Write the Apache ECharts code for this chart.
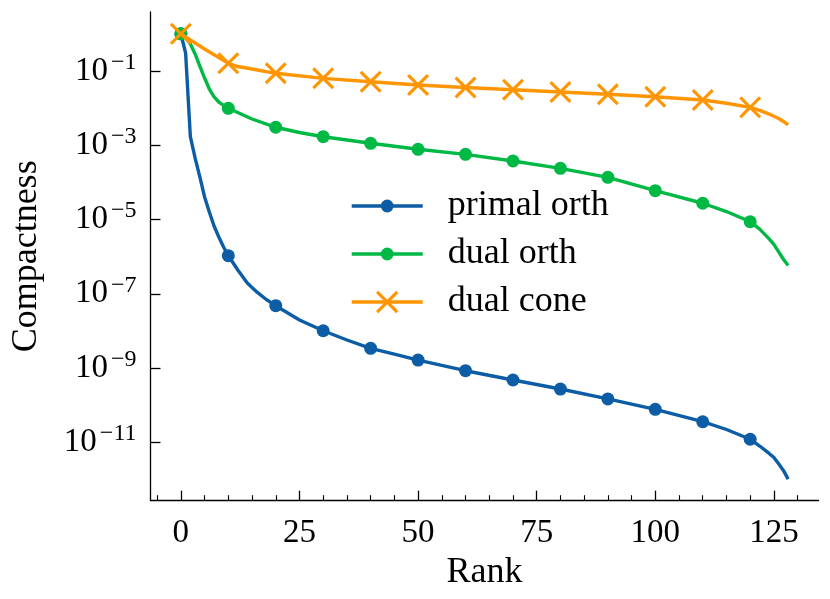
<!DOCTYPE html>
<html>
<head>
<meta charset="utf-8">
<script src="https://cdn.jsdelivr.net/npm/echarts@6/dist/echarts.min.js"></script>
<style>html,body{margin:0;padding:0;background:#fff}#c{width:830px;height:599px}</style>
</head>
<body>
<div id="c"></div>
<script>
// ---- data ----
const seriesNames = ['primal orth', 'dual orth', 'dual cone'];
const seriesColors = ['#0C5DA5', '#00B945', '#FF9500'];

const primalX = [0,1,2,3,4,5,6,7,8,9,10,12,14,16,18,20,25,30,35,40,45,50,60,70,80,90,100,110,115,120,122,124,125,126,127,128];
const primalY = [1,0.305,1.70e-3,4.54e-4,1.40e-4,4.05e-5,1.60e-5,6.68e-6,3.38e-6,1.82e-6,1.06e-6,4.37e-7,1.95e-7,1.12e-7,7.0e-8,4.78e-8,1.97e-8,1.01e-8,5.69e-9,3.40e-9,2.36e-9,1.64e-9,8.47e-10,4.76e-10,2.72e-10,1.47e-10,7.73e-11,3.58e-11,2.21e-11,1.21e-11,7.94e-12,5.01e-12,3.89e-12,2.63e-12,1.75e-12,1.02e-12];

const dualOrthX = [0,1,2,3,4,5,6,7,8,9,10,15,20,25,30,40,50,60,70,80,90,100,110,115,120,122,124,125,126,127,128];
const dualOrthY = [1,0.798,0.533,0.287,0.136,0.0647,0.0327,0.0200,0.0146,0.0118,0.00989,5.09e-3,3.05e-3,2.21e-3,1.70e-3,1.13e-3,7.78e-4,5.70e-4,3.77e-4,2.39e-4,1.37e-4,5.97e-5,2.74e-5,1.64e-5,8.73e-6,5.50e-6,3.02e-6,2.14e-6,1.35e-6,8.51e-7,5.75e-7];

const coneX = [0,5,10,12,15,20,30,40,50,60,70,80,90,100,110,115,120,122,124,125,126,127,128];
const coneY = [1,0.391,0.161,0.132,0.113,0.0867,0.0635,0.0515,0.0420,0.0360,0.0312,0.0272,0.0236,0.0203,0.0166,0.0135,0.0105,8.71e-3,6.92e-3,6.03e-3,5.25e-3,4.37e-3,3.55e-3];

const markEvery = 10;           // markers at rank 0,10,...,120
const markLast = 120;
const xTicksMajor = [0,25,50,75,100,125];
const xTicksMinor = [-5,5,10,15,20,30,35,40,45,55,60,65,70,80,85,90,95,105,110,115,120,130];
const yTicks = [1e-11,1e-9,1e-7,1e-5,1e-3,1e-1];
const xLabel = 'Rank';
const yLabel = 'Compactness';

// ---- build ----
const FONT = 'Liberation Serif';
const LW = 3.4;
const crossPath = 'path://M0,1L1,0L5,4L9,0L10,1L6,5L10,9L9,10L5,6L1,10L0,9L4,5Z';
const symbols = ['circle', 'circle', crossPath];
const symbolSizes = [13, 13, 22];

function buildData(xs, ys) {
  return xs.map((x, i) => {
    const marked = (x % markEvery === 0) && x <= markLast;
    return marked ? { value: [x, ys[i]] } : { value: [x, ys[i]], symbol: 'none' };
  });
}
const xsAll = [primalX, dualOrthX, coneX];
const ysAll = [primalY, dualOrthY, coneY];

const series = seriesNames.map((name, k) => ({
  name: name,
  type: 'line',
  data: buildData(xsAll[k], ysAll[k]),
  symbol: symbols[k],
  symbolSize: symbolSizes[k],
  showAllSymbol: true,
  lineStyle: { color: seriesColors[k], width: LW },
  itemStyle: { color: seriesColors[k], borderWidth: 0, opacity: 1 },
  emphasis: { disabled: true },
  animation: false,
  z: 2 + k
}));

function fmtPow(v) {
  const e = Math.round(Math.log10(v));
  return '{b|10}{s|' + String(e).replace('-', '−') + '}';
}

const legendRows = [206, 254, 302];
const legends = seriesNames.map((name, k) => {
  const ih = k === 2 ? 28 : 16;
  return {
    data: [name],
    orient: 'vertical',
    left: 350,
    top: legendRows[k] - 20,
    padding: 0,
    itemWidth: 71,
    itemHeight: ih,
    selectedMode: false,
    lineStyle: { width: LW },
    textStyle: { fontFamily: FONT, fontSize: 36, color: '#000', lineHeight: 36, padding: [4, 0, 0, 20] }
  };
});

const chart = echarts.init(document.getElementById('c'), null, { renderer: 'canvas' });
chart.setOption({
  animation: false,
  backgroundColor: '#fff',
  legend: legends,
  grid: { left: 150.5, top: 12, width: 668, height: 488.7, containLabel: false, outerBoundsMode: 'none' },
  xAxis: [{
    type: 'value', min: -6.4, max: 134.4, position: 'bottom',
    name: xLabel, nameLocation: 'middle', nameGap: 52,
    nameTextStyle: { fontFamily: FONT, fontSize: 36, color: '#000' },
    axisLine: { show: true, onZero: false, lineStyle: { color: '#000', width: 1.3 } },
    axisTick: { show: true, inside: true, length: 10, customValues: xTicksMajor, lineStyle: { color: '#000', width: 1.3 } },
    axisLabel: { show: true, margin: 16, customValues: xTicksMajor, fontFamily: FONT, fontSize: 33, color: '#000', formatter: v => String(v) },
    splitLine: { show: false }
  }, {
    type: 'value', min: -6.4, max: 134.4, position: 'bottom', gridIndex: 0,
    axisLine: { show: false, onZero: false },
    axisTick: { show: true, inside: true, length: 5.5, customValues: xTicksMinor, lineStyle: { color: '#000', width: 1.1 } },
    axisLabel: { show: false },
    splitLine: { show: false }
  }],
  yAxis: {
    type: 'log', logBase: 10, min: Math.pow(10, -12.573), max: Math.pow(10, 0.589),
    name: yLabel, nameLocation: 'middle', nameGap: 106,
    nameTextStyle: { fontFamily: FONT, fontSize: 36, color: '#000' },
    axisLine: { show: true, onZero: false, lineStyle: { color: '#000', width: 1.3 } },
    axisTick: { show: true, inside: true, length: 10, customValues: yTicks, lineStyle: { color: '#000', width: 1.3 } },
    minorTick: { show: false },
    axisLabel: {
      show: true, margin: 14, customValues: yTicks, formatter: fmtPow,
      rich: {
        b: { fontFamily: FONT, fontSize: 33, color: '#000' },
        s: { fontFamily: FONT, fontSize: 24, color: '#000', padding: [0, 0, 17, 3] }
      }
    },
    splitLine: { show: false }
  },
  series: series
});
</script>
</body>
</html>
